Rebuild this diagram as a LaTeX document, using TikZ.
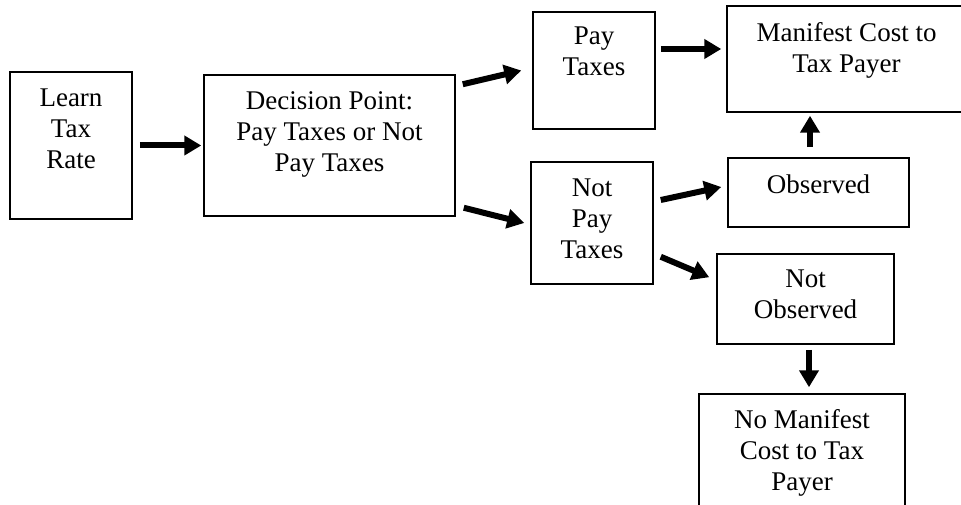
\documentclass[tikz,border=0pt]{standalone}
\usepackage{fontspec}
\setmainfont{Liberation Serif}
\usetikzlibrary{arrows.meta}
\begin{document}
\begin{tikzpicture}[x=1pt, y=1pt,
    box/.style={draw, line width=1.5pt, inner sep=0pt},
    txt/.style={anchor=north, align=center, inner sep=0pt, font=\fontsize{27}{31}\selectfont},
    arr/.style={line width=6pt, -{Triangle[length=17pt, width=19pt]}}]
    \useasboundingbox (0,0) rectangle (961,504);

    \node[box, minimum width=122, minimum height=147] (learn) at (71, 358.5) {};
    \node[box, minimum width=251, minimum height=141] (decision) at (329.5, 358.5) {};
    \node[box, minimum width=122, minimum height=117] (pay) at (594, 433.5) {};
    \node[box, minimum width=122, minimum height=122] (notpay) at (592, 281) {};
    \node[box, minimum width=239, minimum height=106] (manifest) at (846.5, 445) {};
    \node[box, minimum width=181, minimum height=69] (observed) at (818.5, 311.5) {};
    \node[box, minimum width=177, minimum height=90] (notobs) at (805.5, 205) {};
    \node[box, minimum width=206, minimum height=116] (nomanifest) at (802, 52) {};

    \node[txt] (learnT) at ([yshift=-17]learn.north) {Learn\\Tax\\Rate};
    \node[txt] (decisionT) at ([yshift=-17]decision.north) {Decision Point:\\Pay Taxes or Not\\Pay Taxes};
    \node[txt] (payT) at ([yshift=-15]pay.north) {Pay\\Taxes};
    \node[txt] (notpayT) at ([yshift=-17]notpay.north) {Not\\Pay\\Taxes};
    \node[txt] (manifestT) at ([yshift=-17]manifest.north) {Manifest Cost to\\Tax Payer};
    \node[txt] (observedT) at ([yshift=-17]observed.north) {Observed};
    \node[txt] (notobsT) at ([yshift=-16]notobs.north) {Not\\Observed};
    \node[txt] (nomanifestT) at ([yshift=-16]nomanifest.north) {No Manifest\\Cost to Tax\\Payer};

    % Arrows
    \draw[arr] ([xshift=7]learn.east) -- ([xshift=-2]decision.west);
    \draw[arr] ([shift={(7,-10)}]decision.north east) -- ([xshift=-11]pay.west);
    \draw[arr] ([shift={(8,9)}]decision.south east) -- ([xshift=-6]notpay.west);
    \draw[arr] ([shift={(5,21.5)}]pay.east) -- ([shift={(-5,10)}]manifest.west);
    \draw[arr] ([shift={(7,23)}]notpay.east) -- ([shift={(-6,5.5)}]observed.west);
    \draw[arr] ([shift={(7,28)}]notpay.south east) -- ([shift={(-7,-24)}]notobs.north west);
    \draw[arr] ([shift={(-8.5,10)}]observed.north) -- ([shift={(-36.5,-3)}]manifest.south);
    \draw[arr] ([shift={(3.5,-5)}]notobs.south) -- ([shift={(7,6)}]nomanifest.north);
\end{tikzpicture}
\end{document}
